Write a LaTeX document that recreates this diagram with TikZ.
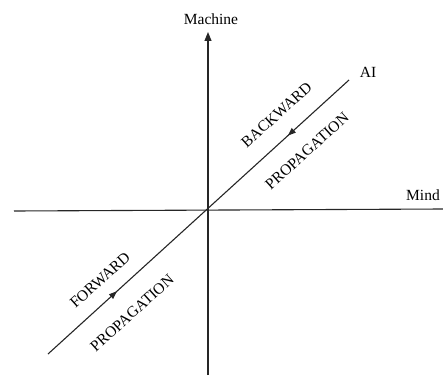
\documentclass[tikz,border=0pt]{standalone}
\usepackage{fontspec}
\setmainfont{Liberation Serif}
\usetikzlibrary{arrows.meta, decorations.markings}

\begin{document}
\begin{tikzpicture}[
  x=1pt, y=-1pt,
  font=\fontsize{15.5}{18}\selectfont,
  >={Triangle[length=9pt, width=7pt]},
  axis/.style={draw=black!85, line width=1.1pt},
  lab/.style={inner sep=1pt},
  dirlab/.style={inner sep=1pt, rotate=42},
  midtips/.style={postaction={decorate},
    decoration={markings,
      mark=at position 0.229 with {\arrow{Triangle[length=8pt, width=6pt]}},
      mark=at position 0.797 with {\arrowreversed{Triangle[length=8pt, width=6pt]}}}},
]
\useasboundingbox (0,0) rectangle (443,377);

% ---- Axes ---------------------------------------------------------------
\coordinate (o) at (208,210);
\coordinate (mtop) at (208,32);
\coordinate (mbot) at (208,375);
\coordinate (mleft) at (14,211);
\coordinate (mright) at (443,209);
\coordinate (fw) at (48,354);
\coordinate (ai) at (349,80);

\draw[axis, ->] (mbot) -- (mtop);
\draw[axis] (mleft) -- (mright);
\draw[axis, midtips] (fw) -- (ai);

% ---- Axis labels --------------------------------------------------------
\node[lab] (machine) at (211,19) {Machine};
\node[lab] (ailab) at (368,72) {AI};
\node[lab] (mind) at (423,195) {Mind};

% ---- Propagation labels -------------------------------------------------
\node[dirlab] (back) at (276.5,115) {BACKWARD};
\node[dirlab] (backprop) at (307,151) {PROPAGATION};
\node[dirlab] (fwd) at (100,280) {FORWARD};
\node[dirlab] (fwdprop) at (132,313) {PROPAGATION};

\end{tikzpicture}
\end{document}
